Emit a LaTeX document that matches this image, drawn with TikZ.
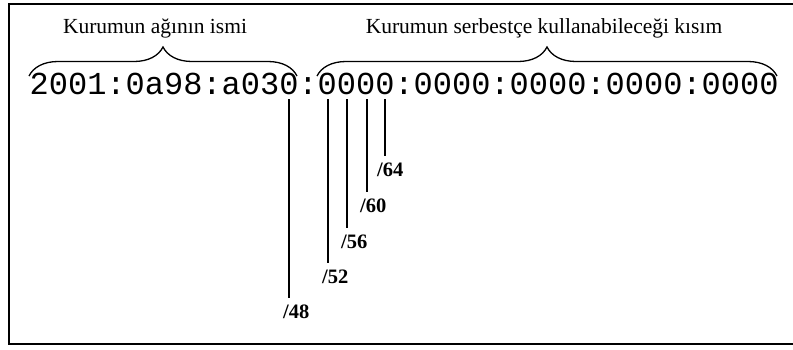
\documentclass[tikz,border=0pt]{standalone}
\usepackage{fontspec}
\setmainfont{Liberation Serif}
\setmonofont{Liberation Mono}
\usetikzlibrary{decorations.pathreplacing,calc}

\begin{document}
\begin{tikzpicture}[
  x=1pt, y=1pt,
  addr/.style={font=\ttfamily\fontsize{32}{36}\selectfont,inner sep=0pt,anchor=base west},
  ttl/.style={font=\fontsize{21.5}{24}\selectfont,inner sep=0pt,anchor=base},
  pfx/.style={font=\bfseries\fontsize{20.5}{24}\selectfont,inner sep=0pt,anchor=base west},
  cut/.style={line width=1.4pt,shorten >=6pt},
  brc/.style={line width=1.3pt,decorate,decoration={brace,amplitude=29pt}},
  ]
  \useasboundingbox (0,0) rectangle (793,-349);
  \draw[line width=2pt] (793,-4) -- (9,-4) -- (9,-344) -- (793,-344);

  % address and the two parts
  \node[addr] (ip) at (29.5,-94) {2001:0a98:a030:0000:0000:0000:0000:0000};
  \draw[brc] (29,-76) -- (297,-76);
  \draw[brc] (317,-76) -- (777,-76);
  \node[ttl] (net)  at (155,-33) {Kurumun ağının ismi};
  \node[ttl] (free) at (544,-33) {Kurumun serbestçe kullanabileceği kısım};

  % prefix boundaries
  \coordinate (t48) at (289,-99);
  \coordinate (t52) at (328,-99);
  \coordinate (t56) at (347,-99);
  \coordinate (t60) at (367,-99);
  \coordinate (t64) at (385,-99);
  \node[pfx] (p48) at (283,-318) {/48};
  \node[pfx] (p52) at (322,-283) {/52};
  \node[pfx] (p56) at (341,-248) {/56};
  \node[pfx] (p60) at (360,-212) {/60};
  \node[pfx] (p64) at (377,-176) {/64};
  \draw[cut] (t48) -- (t48 |- p48.north);
  \draw[cut] (t52) -- (t52 |- p52.north);
  \draw[cut] (t56) -- (t56 |- p56.north);
  \draw[cut] (t60) -- (t60 |- p60.north);
  \draw[cut] (t64) -- (t64 |- p64.north);
\end{tikzpicture}
\end{document}
